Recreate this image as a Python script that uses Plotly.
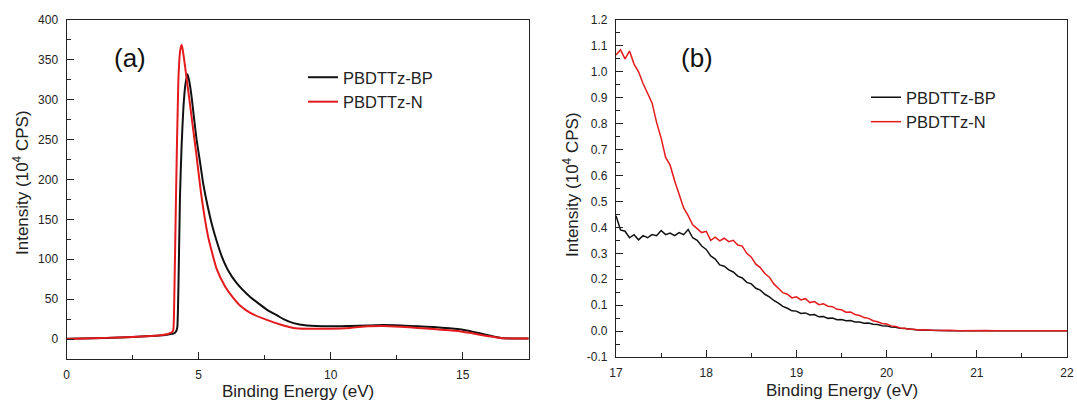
import plotly.graph_objects as go

# ---------------- Panel (a) data ----------------
xa_bp = [0, 1, 2, 3, 3.5, 3.8, 4.0, 4.1, 4.15, 4.19, 4.24, 4.29, 4.35, 4.42, 4.5, 4.58, 4.65,
         4.73, 4.82, 4.92, 5.05, 5.17, 5.33, 5.49, 5.68, 5.87, 6.1, 6.44, 6.94, 7.25, 7.58,
         8.0, 8.21, 8.59, 9.1, 10.0, 10.74, 11.4, 12.0, 12.64, 13.3, 13.9, 14.5, 14.8, 15.1,
         15.4, 15.8, 16.2, 16.55, 17.0, 17.5]
ya_bp = [0.5, 1, 2, 3.5, 4.5, 5.5, 6.5, 8, 10, 15, 80, 178, 240, 290, 320, 332, 322,
         304, 278, 250, 222, 195, 168, 145, 123, 104, 87, 70, 53, 45, 37,
         29, 25, 20, 17, 16, 16.5, 17, 17.5, 17, 16, 15, 13.5, 12.5, 11,
         9, 6, 3, 1, 0.8, 0.8]

xa_n = [0, 1, 2, 3, 3.5, 3.8, 3.95, 4.0, 4.04, 4.08, 4.14, 4.23, 4.3, 4.36, 4.43, 4.55,
        4.73, 4.92, 5.11, 5.36, 5.68, 6.0, 6.3, 6.6, 6.94, 7.58, 8.21, 8.59, 9.1, 10.0,
        10.74, 11.4, 12.0, 12.64, 13.3, 13.9, 14.5, 14.8, 15.1, 15.4, 15.8, 16.2, 16.55,
        17.0, 17.5]
ya_n = [0, 1, 2, 3.5, 4.5, 6, 8, 9, 12, 60, 178, 325, 362, 369, 355, 325,
        279, 229, 178, 128, 88, 66, 52, 41, 33, 24, 17, 14, 13, 13,
        14, 16, 16.5, 15.5, 14, 12.5, 11, 10, 8.5, 7, 4.5, 2.5, 1,
        0.8, 0.8]

# ---------------- Panel (b) data ----------------
xb = [17.00, 17.05, 17.10, 17.15, 17.20, 17.25, 17.30, 17.35, 17.40, 17.45,
      17.50, 17.55, 17.60, 17.65, 17.70, 17.75, 17.80, 17.85, 17.90, 17.95,
      18.00, 18.05, 18.10, 18.15, 18.20, 18.25, 18.30, 18.35, 18.40, 18.45,
      18.50, 18.55, 18.60, 18.65, 18.70, 18.75, 18.80, 18.85, 18.90, 18.95,
      19.00, 19.05, 19.10, 19.15, 19.20, 19.25, 19.30, 19.35, 19.40, 19.45,
      19.50, 19.55, 19.60, 19.65, 19.70, 19.75, 19.80, 19.85, 19.90, 19.95,
      20.00, 20.05, 20.10, 20.15, 20.20, 20.25, 20.30, 20.35, 20.40, 20.45,
      20.50, 20.60, 20.70, 20.80, 20.90, 21.00, 21.10, 21.20, 21.30, 21.40,
      21.50, 21.60, 21.70, 21.80, 21.90, 22.00]

yb_n = [1.065, 1.085, 1.050, 1.080, 1.030, 1.000, 0.955, 0.915, 0.880, 0.805,
        0.745, 0.670, 0.640, 0.580, 0.530, 0.475, 0.445, 0.410, 0.395, 0.380,
        0.385, 0.350, 0.362, 0.348, 0.358, 0.345, 0.350, 0.332, 0.328, 0.300,
        0.285, 0.258, 0.245, 0.222, 0.208, 0.182, 0.165, 0.148, 0.142, 0.128,
        0.132, 0.120, 0.125, 0.110, 0.114, 0.102, 0.105, 0.096, 0.094, 0.084,
        0.082, 0.073, 0.074, 0.064, 0.060, 0.052, 0.049, 0.040, 0.036, 0.029,
        0.027, 0.020, 0.018, 0.012, 0.011, 0.007, 0.007, 0.004, 0.005, 0.003,
        0.003, 0.002, 0.003, 0.001, 0.002, 0.001, 0.002, 0.001, 0.002, 0.001,
        0.001, 0.002, 0.001, 0.001, 0.002, 0.001]

yb_bp = [0.445, 0.390, 0.385, 0.360, 0.372, 0.352, 0.368, 0.360, 0.372, 0.368,
         0.388, 0.372, 0.378, 0.368, 0.380, 0.372, 0.392, 0.360, 0.350, 0.328,
         0.315, 0.290, 0.278, 0.255, 0.250, 0.236, 0.228, 0.212, 0.205, 0.188,
         0.182, 0.165, 0.158, 0.142, 0.132, 0.118, 0.108, 0.095, 0.088, 0.078,
         0.077, 0.068, 0.070, 0.062, 0.064, 0.055, 0.056, 0.049, 0.050, 0.044,
         0.045, 0.040, 0.041, 0.035, 0.035, 0.030, 0.031, 0.026, 0.025, 0.021,
         0.020, 0.016, 0.015, 0.011, 0.010, 0.007, 0.006, 0.004, 0.004, 0.003,
         0.002, 0.002, 0.001, 0.002, 0.001, 0.001, 0.001, 0.002, 0.001, 0.001,
         0.002, 0.001, 0.001, 0.001, 0.001, 0.001]

# tick labels
xa_ticks = [0, 5, 10, 15]
ya_ticks = [0, 50, 100, 150, 200, 250, 300, 350, 400]
xb_ticks = [17, 18, 19, 20, 21, 22]
yb_ticks = [-0.1, 0.0, 0.1, 0.2, 0.3, 0.4, 0.5, 0.6, 0.7, 0.8, 0.9, 1.0, 1.1, 1.2]
yb_ticktext = ["-0.1", "0.0", "0.1", "0.2", "0.3", "0.4", "0.5", "0.6", "0.7",
               "0.8", "0.9", "1.0", "1.1", "1.2"]

names = ["PBDTTz-BP", "PBDTTz-N"]
BLACK = "#111111"
RED = "#e41a1c"
FONT = "Arial, 'Liberation Sans', sans-serif"
W, H = 1077, 401

fig = go.Figure()
fig.add_trace(go.Scatter(x=xa_bp, y=ya_bp, mode="lines", name=names[0],
                         line=dict(color=BLACK, width=2, shape="spline", smoothing=0.5),
                         xaxis="x", yaxis="y", legend="legend"))
fig.add_trace(go.Scatter(x=xa_n, y=ya_n, mode="lines", name=names[1],
                         line=dict(color=RED, width=2, shape="spline", smoothing=0.5),
                         xaxis="x", yaxis="y", legend="legend"))
fig.add_trace(go.Scatter(x=xb, y=yb_bp, mode="lines", name=names[0],
                         line=dict(color=BLACK, width=1.5), xaxis="x2", yaxis="y2",
                         legend="legend2"))
fig.add_trace(go.Scatter(x=xb, y=yb_n, mode="lines", name=names[1],
                         line=dict(color=RED, width=1.5), xaxis="x2", yaxis="y2",
                         legend="legend2"))

def px_x(p):
    return p / W

def px_y(p):
    return 1 - p / H

axis_common = dict(showline=True, linecolor="#222222", linewidth=1.3, mirror=True,
                   ticks="inside", ticklen=7, tickwidth=1, tickcolor="#222222",
                   showgrid=False, zeroline=False,
                   tickfont=dict(family=FONT, size=12, color="#222222"),
                   automargin=False)

fig.update_layout(
    width=W, height=H,
    margin=dict(l=0, r=0, t=0, b=0),
    paper_bgcolor="white", plot_bgcolor="white",
    font=dict(family=FONT, color="#222222"),
    xaxis=dict(domain=[px_x(66.7), px_x(528.7)], range=[0, 17.5], anchor="y",
               tickvals=xa_ticks, ticklabelstandoff=4,
               minor=dict(dtick=2.5, ticks="inside", ticklen=4, tickcolor="#222222"),
               **axis_common),
    yaxis=dict(domain=[px_y(359), px_y(20)], range=[-25, 400], anchor="x",
               tickvals=ya_ticks, ticklabelstandoff=5,
               minor=dict(dtick=25, ticks="inside", ticklen=4, tickcolor="#222222"),
               **axis_common),
    xaxis2=dict(domain=[px_x(616), px_x(1067)], range=[17, 22], anchor="y2",
                tickvals=xb_ticks, ticklabelstandoff=4,
                minor=dict(dtick=0.5, ticks="inside", ticklen=4, tickcolor="#222222"),
                **axis_common),
    yaxis2=dict(domain=[px_y(357), px_y(20)], range=[-0.1, 1.2], anchor="x2",
                tickvals=yb_ticks, ticktext=yb_ticktext, ticklabelstandoff=5,
                minor=dict(dtick=0.05, ticks="inside", ticklen=4, tickcolor="#222222"),
                **axis_common),
    legend=dict(x=px_x(303), y=px_y(60), xanchor="left", yanchor="top",
                bgcolor="rgba(0,0,0,0)", borderwidth=0,
                font=dict(family=FONT, size=16.5, color="#222222"),
                tracegroupgap=0),
    legend2=dict(x=px_x(866), y=px_y(80), xanchor="left", yanchor="top",
                 bgcolor="rgba(0,0,0,0)", borderwidth=0,
                 font=dict(family=FONT, size=16.5, color="#222222"),
                 tracegroupgap=0),
    showlegend=True,
)

ann = []
# panel labels
ann.append(dict(text="(a)", x=px_x(130), y=px_y(58), xref="paper", yref="paper",
                xanchor="center", yanchor="middle", showarrow=False,
                font=dict(family=FONT, size=26, color="#111111")))
ann.append(dict(text="(b)", x=px_x(697), y=px_y(58), xref="paper", yref="paper",
                xanchor="center", yanchor="middle", showarrow=False,
                font=dict(family=FONT, size=26, color="#111111")))
# axis titles
ytitle = "Intensity (10<sup>4</sup> CPS)"
xtitle = "Binding Energy (eV)"
ann.append(dict(text=ytitle, x=px_x(21), y=px_y(183), xref="paper", yref="paper",
                xanchor="center", yanchor="middle", showarrow=False, textangle=-90,
                font=dict(family=FONT, size=17, color="#222222")))
ann.append(dict(text=ytitle, x=px_x(571), y=px_y(185), xref="paper", yref="paper",
                xanchor="center", yanchor="middle", showarrow=False, textangle=-90,
                font=dict(family=FONT, size=17, color="#222222")))
ann.append(dict(text=xtitle, x=px_x(297.7), y=px_y(391), xref="paper", yref="paper",
                xanchor="center", yanchor="middle", showarrow=False,
                font=dict(family=FONT, size=17, color="#222222")))
ann.append(dict(text=xtitle, x=px_x(841.5), y=px_y(390), xref="paper", yref="paper",
                xanchor="center", yanchor="middle", showarrow=False,
                font=dict(family=FONT, size=17, color="#222222")))
fig.update_layout(annotations=ann)

fig.write_html("out.html", config={"displayModeBar": False},
               post_script="document.body.style.margin='0';document.body.style.overflow='hidden';")
